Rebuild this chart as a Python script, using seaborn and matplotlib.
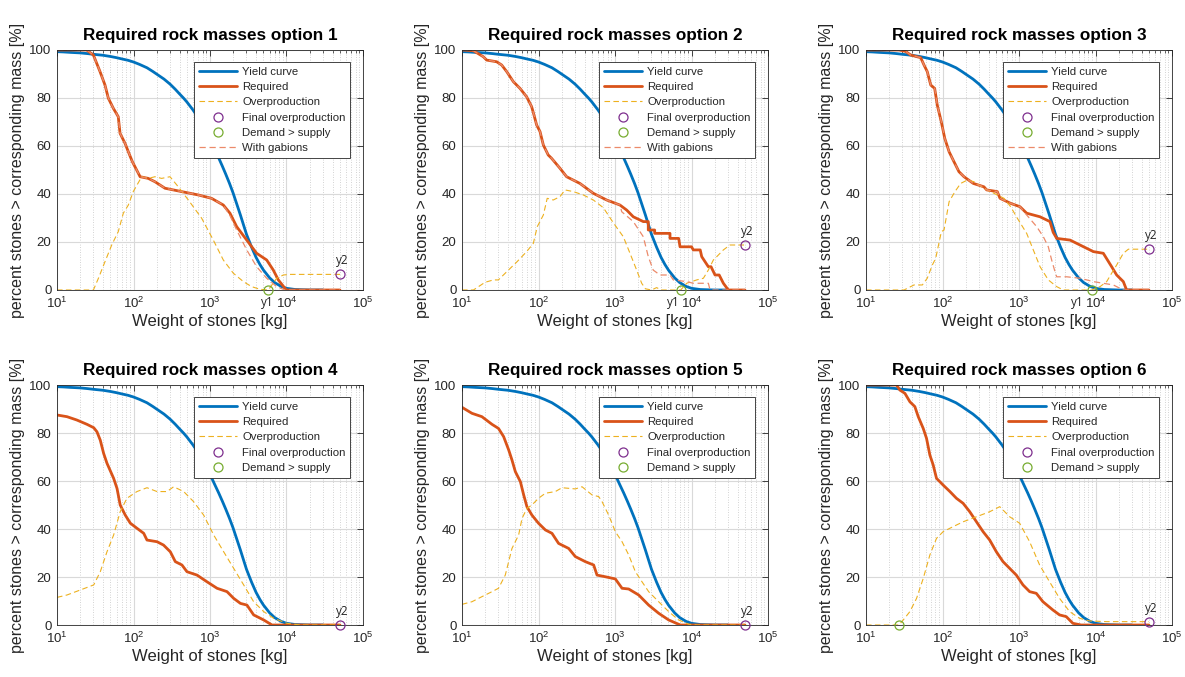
import matplotlib
matplotlib.use("Agg")
import matplotlib.pyplot as plt
import seaborn as sns
from matplotlib.lines import Line2D
from matplotlib.ticker import LogLocator, NullFormatter, FixedLocator

# ---------------- data ----------------
yield_w = [10, 12, 15, 20, 25, 30, 40, 50, 60, 70, 85, 100, 120, 150, 180, 200, 250, 300, 350, 400,
           450, 500, 600, 700, 800, 900, 1000, 1150, 1300, 1450, 1600, 1800, 2000, 2250, 2500, 2750,
           3000, 3500, 4000, 4500, 5000, 6000, 7000, 8500, 10000, 13000, 20000, 30000]
yield_p = [99.3, 99.2, 99.0, 98.8, 98.5, 98.2, 97.8, 97.3, 96.8, 96.3, 95.7, 95.0, 94.0, 92.6, 91.0, 90.0,
           87.9, 85.8, 83.7, 81.7, 80.0, 78.3, 75.0, 71.8, 68.8, 65.7, 62.8, 58.6, 55.0, 51.6, 48.4, 44.4,
           40.5, 35.6, 31.2, 27.0, 23.2, 17.8, 13.6, 10.6, 8.3, 5.1, 3.1, 1.5, 0.7, 0.2, 0.0, 0.0]

# option 1
p1_req_w = [10, 24.4, 29.9, 36.5, 42.4, 46.9, 54.5, 63.2, 66.7, 77.5, 85.6, 96.5, 122, 156, 191, 258,
            426, 703, 1047, 1493, 1824, 2232, 3020, 4070, 5510, 6720, 7820, 9550, 10000, 50000]
p1_req_p = [100, 100, 97.9, 91, 85.4, 79.9, 75.7, 72.2, 65.3, 61.1, 57.6, 53.5, 47.2, 46.5, 45.1, 42.4,
            41, 39.6, 38.2, 35.4, 32, 26.4, 20.8, 15.3, 12.5, 8.3, 4.2, 0.7, 0, 0]
p1_gab_w = [10, 24.4, 29.9, 36.5, 42.4, 46.9, 54.5, 63.2, 66.7, 77.5, 85.6, 96.5, 122, 156, 191, 258,
            426, 703, 1047, 1493, 1824, 2232, 3020, 4070, 5510, 7440, 9550, 50000]
p1_gab_p = [100, 100, 97.9, 91, 85.4, 79.9, 75.7, 72.2, 65.3, 61.1, 57.6, 53.5, 47.2, 46.5, 45.1, 42.4,
            41, 39.6, 38.2, 35.4, 31, 25, 16.7, 9.7, 4.9, 1.4, 0, 0]
p1_over_w = [10, 29.9, 34.8, 42.4, 51.9, 63.2, 73.6, 85.6, 99.3, 128, 156, 191, 233, 300, 385, 521,
             778, 1105, 1493, 2017, 2730, 3500, 4500, 5780, 7440, 9100, 11000, 50000]
p1_over_p = [0, 0, 4.9, 11.8, 18.75, 24.3, 32, 35.4, 41, 47.2, 46.5, 47.2, 46.5, 47.2, 43, 37.5,
             29.9, 20.8, 12.5, 7, 3.5, 1.4, 0.3, 0, 4.9, 6.25, 6.5, 6.5]
p1_y1 = (5780, 0.0)
p1_y2 = (50000, 6.5)

# option 2
p2_req_w = [10, 14.1, 19, 21, 28.4, 33, 38.4, 46.9, 57.3, 70, 81.3, 87.3, 94.6, 104.7, 115.7, 134, 148,
            191, 233, 348, 520, 778, 1161, 1422, 1735, 2344, 2723, 2723, 3300, 3300, 5236, 5236, 6800,
            7080, 10000, 10570, 13000, 13600, 16600, 18000, 20300, 23000, 26100, 30300, 50000]
p2_req_p = [100, 99.7, 97.2, 95.8, 95.1, 93.75, 91, 86.8, 84, 80.5, 76.4, 72.9, 68.75, 66, 60.4, 56.25, 54.9,
            50.7, 47.2, 44.4, 40.3, 37.5, 35.4, 33.3, 30.5, 28.5, 28.5, 25, 25, 23.6, 23.6, 21.5, 21.5,
            18, 18, 16.7, 16.7, 13.9, 9.7, 9.7, 6.25, 6.25, 2.8, 0, 0]
p2_gab_w = [10, 14.1, 19, 21, 28.4, 33, 38.4, 46.9, 57.3, 70, 81.3, 87.3, 94.6, 104.7, 115.7, 134, 148,
            191, 233, 348, 520, 778, 1161, 1225, 1735, 2344, 2723, 3160, 3873, 5236, 5780, 8650, 10570,
            16600, 17500, 50000]
p2_gab_p = [100, 99.7, 97.2, 95.8, 95.1, 93.75, 91, 86.8, 84, 80.5, 76.4, 72.9, 68.75, 66, 60.4, 56.25, 54.9,
            50.7, 47.2, 44.4, 40.3, 37.5, 35.4, 32.6, 28.5, 22.2, 13.9, 8.3, 6.25, 6.25, 4.2, 3.5, 2.8,
            2.8, 0, 0]
p2_over_w = [10, 14.1, 20, 25.7, 29.9, 38.4, 52.5, 70, 85.5, 96.4, 115.7, 130, 156, 191, 222, 285, 385,
             521, 704, 951, 1284, 1570, 1919, 2233, 2500, 3000, 3500, 4000, 7230, 8650, 11700, 14300,
             16600, 19300, 21400, 26100, 31800, 50000]
p2_over_p = [0, 0, 3.2, 4.2, 4.2, 7.6, 11.8, 16, 19.4, 26.4, 31.25, 38.2, 37.5, 38.9, 41.7, 41, 39.6,
             37.5, 34.3, 28, 22.2, 15.3, 8.3, 2.8, 0.5, 0, 1, 0, 0, 2.8, 4.2, 4.9,
             8.3, 12.5, 13.9, 16.7, 18.75, 18.75]
p2_y1 = (7230, 0.0)
p2_y2 = (50000, 18.75)

# option 3
p3_req_w = [10, 27, 33, 38.4, 51.9, 57.3, 63.2, 70.2, 79, 85.5, 96.6, 107, 122, 141, 164, 191, 253, 348,
            378, 520, 565, 778, 1030, 1260, 1885, 2540, 2800, 3110, 4650, 6270, 9370, 12650, 16260,
            18900, 23100, 25500, 50000]
p3_req_p = [100, 100, 99.4, 97.9, 96.8, 93.75, 91, 85.4, 84, 77, 70, 63.2, 57.6, 53.5, 49.3, 47.2, 44.4, 43,
            41.7, 41, 38.2, 36.1, 34.7, 32, 30.5, 28.5, 24, 21.5, 20.8, 18.75, 16, 15.3, 9.7,
            6.25, 3.5, 0, 0]
p3_gab_w = [10, 27, 33, 38.4, 51.9, 57.3, 63.2, 70.2, 79, 85.5, 96.6, 107, 122, 141, 164, 191, 253, 348,
            378, 520, 565, 778, 1030, 1260, 1702, 2080, 2416, 2672, 2956, 3110, 4210, 6270, 9370,
            17100, 23100, 50000]
p3_gab_p = [100, 100, 99.4, 97.9, 96.8, 93.75, 91, 85.4, 84, 77, 70, 63.2, 57.6, 53.5, 49.3, 47.2, 44.4, 43,
            41.7, 41, 38.2, 36.1, 34.7, 31.25, 26.4, 22.2, 18, 12.5, 7.6, 5.5, 5.5, 4.9, 3.5,
            2.1, 0, 0]
p3_over_w = [10, 31.4, 42.4, 54.5, 63.2, 73.6, 81.5, 96.6, 104.7, 122, 145.6, 172.6, 211, 258, 348, 426,
             637, 778, 951, 1260, 1538, 1885, 2416, 3110, 3800, 8900, 11460, 14000, 16260, 18900,
             23100, 26900, 50000]
p3_over_p = [0, 0, 2.1, 2.1, 4.9, 10.4, 13.2, 24.3, 25, 36.8, 41, 44.4, 45.8, 45.1, 42.4, 41,
             38.2, 34.7, 29.9, 23.6, 16.7, 9.7, 4.2, 1.4, 0, 0, 1.4, 3.5, 7, 10.4,
             15.3, 17, 17]
p3_y1 = (8900, 0.0)
p3_y2 = (50000, 17.0)

# option 4
p4_req_w = [10, 13.5, 18.2, 24.7, 30.2, 33.3, 36.8, 40.7, 45, 55, 60.9, 67, 78, 91, 111, 136, 150, 203,
            247, 303, 352, 430, 500, 676, 914, 1236, 1668, 2040, 2500, 3040, 3720, 5030, 6460, 50000]
p4_req_p = [87.5, 86.8, 85.4, 83.6, 82.2, 80.5, 77, 71.5, 67.4, 61.1, 56.9, 50, 45.8, 42.4, 40.3, 38.2, 35.4,
            34.7, 33.3, 30.5, 26.4, 25, 22.2, 20.8, 18, 15.3, 13.9, 11.1, 9, 8.3, 4.2, 2.1, 0, 0]
p4_over_w = [10, 13.5, 20.2, 30.2, 36.8, 45, 55, 67, 82, 111, 150, 203, 274, 335, 453, 610, 826, 1117,
             1510, 2040, 2755, 3720, 5030, 6790, 10140, 15000, 50000]
p4_over_p = [11.5, 12.5, 14.6, 16.7, 22.2, 30.5, 37.5, 47.2, 52.8, 55.6, 57.2, 55.6, 55.6, 57.6, 55.6,
             51.4, 45.8, 37.5, 30.5, 23.6, 16.7, 9.7, 5.6, 2.8, 0.7, 0, 0]
p4_y2 = (50000, 0.0)

# option 5
p5_req_w = [10, 13.5, 18.2, 24.7, 30, 35, 40.8, 45, 49.8, 58, 64, 70.6, 82, 100, 123, 150, 183, 248, 303,
            409, 526, 582, 748, 1010, 1236, 1510, 2040, 2755, 3720, 5030, 7150, 50000]
p5_req_p = [90.7, 88.2, 86.8, 83.6, 81.9, 78.5, 72.9, 68.75, 63.9, 59.7, 54.2, 49.3, 45.8, 42.4, 39.6, 38.2,
            34, 31.9, 28.5, 26.4, 25, 20.8, 20.1, 19.2, 15.3, 15, 12.5, 8.3, 4.9, 2.1, 0, 0]
p5_over_w = [10, 13.5, 18.2, 24.7, 30, 36.8, 45, 55, 60.9, 70.6, 82, 100, 123, 166, 203, 303, 371, 501,
             612, 677, 826, 1010, 1236, 1510, 1845, 2255, 2755, 3720, 5030, 6790, 9180, 12000, 50000]
p5_over_p = [8.6, 9.7, 11.8, 13.9, 15.3, 20.8, 31.9, 37.5, 44.4, 48.6, 50, 52.8, 54.9, 55.6, 57.2, 56.7,
             57.6, 54.2, 53.5, 51.4, 45.8, 38.9, 34.7, 29.2, 22.2, 18, 13.9, 9.7, 5.6, 2.1, 0.3, 0, 0]
p5_y2 = (50000, 0.0)

# option 6
p6_req_w = [10, 25.1, 27.7, 32.3, 37.5, 43.5, 48.2, 56, 61.8, 68.4, 75.5, 83.5, 102, 125, 152, 186, 227,
            278, 339, 414, 506, 618, 755, 922, 1127, 1377, 1683, 2056, 2775, 3390, 4140, 5060, 6500, 50000]
p6_req_p = [100, 100, 97.9, 96.5, 93, 91, 86.8, 81.9, 77.8, 70.8, 66.7, 61.1, 58.3, 55.6, 52.8, 50.7, 47.2,
            43, 38.9, 35.4, 30.5, 26.4, 23.6, 20.8, 16.7, 13.9, 13.2, 9.7, 6.25, 4.2, 3.5, 0.7, 0, 0]
p6_over_w = [10, 26.9, 30.7, 37.5, 45.8, 56, 68.4, 83.5, 102, 138, 186, 278, 414, 560, 755, 1020, 1377,
             1860, 2510, 3390, 4580, 6180, 8350, 13760, 50000]
p6_over_p = [0, 0, 2.1, 5.6, 11.1, 19.4, 29.2, 36.1, 38.9, 41, 43, 45.1, 47.2, 49.3, 45.1, 42.4, 34.7,
             25, 18, 11.1, 5.6, 2.8, 1.7, 1.4, 1.4]
p6_y1 = (26.9, 0.0)
p6_y2 = (50000, 1.4)

titles = ["Required rock masses option %d" % i for i in range(1, 7)]
x_label = "Weight of stones [kg]"
y_label = "percent stones > corresponding mass [%]"
legend_labels = ["Yield curve", "Required", "Overproduction", "Final overproduction",
                 "Demand > supply", "With gabions"]

panels = [
    dict(req=(p1_req_w, p1_req_p), gab=(p1_gab_w, p1_gab_p), over=(p1_over_w, p1_over_p), y1=p1_y1, y2=p1_y2, y1_dx=-1),
    dict(req=(p2_req_w, p2_req_p), gab=(p2_gab_w, p2_gab_p), over=(p2_over_w, p2_over_p), y1=p2_y1, y2=p2_y2, y1_dx=-5),
    dict(req=(p3_req_w, p3_req_p), gab=(p3_gab_w, p3_gab_p), over=(p3_over_w, p3_over_p), y1=p3_y1, y2=p3_y2, y1_dx=-10),
    dict(req=(p4_req_w, p4_req_p), gab=None, over=(p4_over_w, p4_over_p), y1=None, y2=p4_y2, y1_dx=None),
    dict(req=(p5_req_w, p5_req_p), gab=None, over=(p5_over_w, p5_over_p), y1=None, y2=p5_y2, y1_dx=None),
    dict(req=(p6_req_w, p6_req_p), gab=None, over=(p6_over_w, p6_over_p), y1=p6_y1, y2=p6_y2, y1_dx=None),
]

# ---------------- style ----------------
BLUE = "#0072BD"
RED = "#D95319"
YEL = "#EDB120"
PUR = "#7E2F8E"
GRN = "#77AC30"
GAB = "#EC8A6A"
AXC = "#262626"

sns.set_theme(style="white")
plt.rcParams["font.family"] = ["Liberation Sans", "DejaVu Sans"]
plt.rcParams["mathtext.fontset"] = "custom"
plt.rcParams["mathtext.rm"] = "Liberation Sans"
plt.rcParams["mathtext.it"] = "Liberation Sans:italic"
plt.rcParams["mathtext.bf"] = "Liberation Sans:bold"

W, H = 1185, 677
fig = plt.figure(figsize=(W / 100, H / 100), dpi=100)
fig.patch.set_facecolor("white")

col_left = [57, 462, 866]
row_top = [50, 385]
ax_w, ax_h = 306, 240

for i, pan in enumerate(panels):
    r, c = divmod(i, 3)
    l = col_left[c] / W
    b = 1 - (row_top[r] + ax_h) / H
    ax = fig.add_axes([l, b, ax_w / W, ax_h / H])
    ax.set_xscale("log")

    sns.lineplot(x=yield_w, y=yield_p, ax=ax, color=BLUE, linewidth=2.0,
                 estimator=None, sort=False, legend=False)
    sns.lineplot(x=pan["req"][0], y=pan["req"][1], ax=ax, color=RED, linewidth=2.0,
                 estimator=None, sort=False, legend=False)
    sns.lineplot(x=pan["over"][0], y=pan["over"][1], ax=ax, color=YEL, linewidth=0.8,
                 linestyle=(0, (5, 3)), estimator=None, sort=False, legend=False)
    if pan["gab"] is not None:
        sns.lineplot(x=pan["gab"][0], y=pan["gab"][1], ax=ax, color=GAB, linewidth=0.9,
                     linestyle=(0, (5, 3)), estimator=None, sort=False, legend=False)
    if pan["y2"] is not None:
        ax.plot([pan["y2"][0]], [pan["y2"][1]], linestyle="none", marker="o", ms=6.5,
                mfc="none", mec=PUR, mew=0.9, clip_on=False, zorder=5)
        ax.annotate("y2", xy=pan["y2"], xytext=(2, 5), textcoords="offset points",
                    ha="center", va="bottom", fontsize=8.5, color="#222222",
                    family=["Open Sans", "DejaVu Sans"], annotation_clip=False)
    if pan["y1"] is not None:
        ax.plot([pan["y1"][0]], [pan["y1"][1]], linestyle="none", marker="o", ms=6.5,
                mfc="none", mec=GRN, mew=0.9, clip_on=False, zorder=5)
        if pan["y1_dx"] is not None:
            ax.annotate("y1", xy=pan["y1"], xytext=(pan["y1_dx"], -4), textcoords="offset points",
                        ha="center", va="top", fontsize=8.5, color="#222222",
                        family=["Open Sans", "DejaVu Sans"], annotation_clip=False)

    ax.set_xlim(10, 1e5)
    ax.set_ylim(0, 100)
    ax.xaxis.set_major_locator(FixedLocator([1e1, 1e2, 1e3, 1e4, 1e5]))
    ax.xaxis.set_minor_locator(LogLocator(base=10, subs=range(2, 10), numticks=20))
    ax.xaxis.set_minor_formatter(NullFormatter())
    ax.set_yticks([0, 20, 40, 60, 80, 100])
    ax.grid(True, which="major", axis="both", color="#d9d9d9", linewidth=0.8, linestyle="-")
    ax.grid(True, which="minor", axis="x", color="#c4c4c4", linewidth=0.6, linestyle=(0, (1, 2)))
    ax.set_axisbelow(True)
    ax.tick_params(which="both", direction="in", top=True, right=True, colors=AXC,
                   labelsize=9.5, labelcolor=AXC)
    ax.tick_params(which="major", length=4, width=0.6, pad=4)
    ax.tick_params(which="minor", length=2, width=0.5)
    for s in ax.spines.values():
        s.set_color(AXC)
        s.set_linewidth(0.6)
        s.set_visible(True)

    ax.set_title(titles[i], fontsize=12.3, fontweight="bold", color="black", pad=7)
    ax.set_xlabel(x_label, fontsize=12, color=AXC, labelpad=2)
    ax.set_ylabel(y_label, fontsize=11.5, color=AXC, labelpad=3)

    handles = [
        Line2D([], [], color=BLUE, lw=2.0),
        Line2D([], [], color=RED, lw=2.0),
        Line2D([], [], color=YEL, lw=0.8, linestyle=(0, (5, 3))),
        Line2D([], [], linestyle="none", marker="o", ms=6.5, mfc="none", mec=PUR, mew=0.9),
        Line2D([], [], linestyle="none", marker="o", ms=6.5, mfc="none", mec=GRN, mew=0.9),
    ]
    labels = legend_labels[:5]
    if pan["gab"] is not None:
        handles.append(Line2D([], [], color=GAB, lw=0.9, linestyle=(0, (5, 3))))
        labels = legend_labels[:6]
    leg = ax.legend(handles, labels, loc="upper right", bbox_to_anchor=(0.958, 0.95),
                    fontsize=8.2, frameon=True, fancybox=False, framealpha=1,
                    edgecolor=AXC, handlelength=3.3, handletextpad=0.5,
                    labelspacing=0.47, borderpad=0.4, borderaxespad=0.0)
    leg.get_frame().set_linewidth(0.6)
    for t in leg.get_texts():
        t.set_color(AXC)

fig.savefig("out.png", dpi=100, facecolor="white")
